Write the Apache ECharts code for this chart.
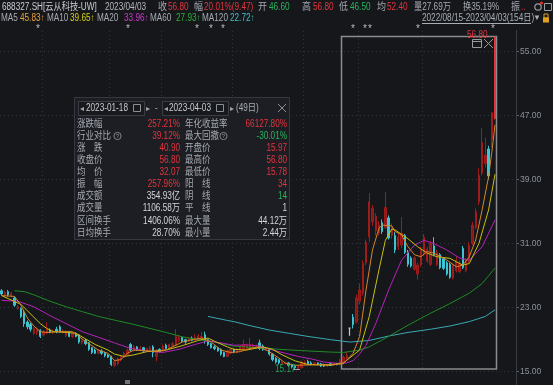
<!DOCTYPE html>
<html><head><meta charset="utf-8">
<script src="https://cdn.jsdelivr.net/npm/echarts@6/dist/echarts.min.js"></script>
<style>html,body{margin:0;padding:0;background:#15171b;}#c{width:553px;height:385px;}</style>
</head><body><div id="c"></div>
<script>
// ---- data ----
const opens = [25.1,24.6,25.0,24.5,24.2,22.9,22.9,22.4,21.2,20.9,19.8,19.9,20.2,19.6,19.8,20.2,19.9,20.3,20.6,19.9,
19.5,20.0,19.4,19.8,19.6,18.6,18.9,18.6,18.0,17.7,17.3,17.6,17.4,17.1,16.9,15.8,16.0,16.5,16.8,17.1,
18.4,17.6,18.1,17.7,18.0,17.6,17.7,18.1,16.9,17.8,17.5,18.3,17.9,18.2,18.3,18.9,19.3,19.0,18.8,19.2,
18.9,19.1,19.2,19.6,19.0,18.5,18.1,18.0,17.8,17.4,16.9,17.3,17.8,17.4,17.6,17.8,17.9,18.0,18.1,18.0,
18.6,18.2,17.7,17.8,17.2,16.7,16.5,15.9,16.0,16.1,15.9,15.7,15.4,15.5,16.0,16.3,16.1,15.9,16.1,16.0,
15.9,15.7,16.0,15.8,16.0,15.97,16.3,16.7,20.45,21.8,21.2,23.8,24.8,28.6,31.8,33.7,32.6,32.3,33.6,33.0,
34.2,32.0,32.0,30.6,30.8,32.0,29.9,29.2,27.8,27.2,28.3,29.7,28.8,28.4,30.7,28.4,29.6,29.1,28.6,28.4,
26.7,27.6,27.5,30.4,27.6,28.8,31.0,33.0,36.2,39.8,41.0,42.8,44.0,46.60];
const closes = [24.7,24.9,24.6,24.8,23.3,23.1,21.9,21.0,20.6,20.3,20.4,20.3,19.4,20.0,20.3,19.9,20.1,20.0,20.0,20.1,
20.0,19.4,19.8,19.4,18.7,18.9,18.5,17.8,17.4,17.3,17.7,17.3,17.0,16.8,15.9,16.3,16.6,16.9,17.3,17.7,
17.7,18.1,17.7,17.9,17.6,17.9,18.0,17.4,17.7,17.5,18.2,17.9,18.4,18.5,19.4,19.2,18.8,18.7,19.1,18.9,
19.3,19.5,19.4,18.9,18.4,18.0,17.9,17.6,17.2,16.9,17.6,17.8,17.5,17.8,18.1,18.4,18.3,18.4,18.3,18.2,
17.9,17.8,17.9,17.2,16.5,16.2,16.1,16.2,16.1,15.8,15.6,15.5,15.6,16.2,16.2,16.0,15.9,16.1,15.9,15.7,
15.7,15.9,15.8,16.0,15.90,16.4,16.8,17.04,20.45,20.9,24.2,25.2,28.5,31.2,36.2,35.4,34.4,33.3,32.5,35.5,
31.7,33.0,30.2,31.8,32.3,29.9,28.4,28.2,29.2,28.3,30.3,31.8,30.3,31.0,29.6,29.9,28.0,27.9,27.2,26.8,
28.3,28.9,28.5,28.0,28.8,30.8,33.3,35.0,39.5,43.6,42.0,39.44,47.33,56.80];
const lows = [24.5,24.4,24.4,24.3,23.1,22.7,21.7,20.6,20.3,20.0,19.6,19.6,19.2,19.4,19.7,19.8,19.7,19.8,19.9,19.8,
19.3,19.3,19.2,19.3,18.5,18.4,18.3,17.6,17.2,17.2,17.2,17.1,16.8,16.7,15.7,15.6,15.8,16.3,16.7,17.0,
17.5,17.5,17.6,17.6,17.5,17.5,17.6,16.8,16.3,17.4,17.4,17.8,17.8,18.1,18.2,18.7,18.6,18.5,18.7,18.8,
18.8,19.0,19.0,18.5,18.2,17.9,17.7,17.5,17.0,16.8,16.8,17.2,17.3,17.3,17.5,17.7,17.8,17.9,18.0,17.9,
17.7,17.6,17.6,17.0,16.3,16.0,15.9,15.8,15.9,15.6,15.4,15.3,15.17,15.4,15.8,15.9,15.8,15.8,15.8,15.6,
15.6,15.6,15.7,15.7,15.8,15.78,16.2,16.5,19.5,20.4,21.0,23.4,24.5,28.3,31.2,33.2,32.0,32.0,32.2,32.8,
31.5,31.6,29.8,30.2,30.4,29.7,28.1,28.0,27.6,26.5,28.1,29.5,28.6,28.2,29.4,28.2,27.8,27.7,27.0,26.6,
26.5,27.4,27.3,27.8,27.4,28.6,30.8,32.8,35.8,39.5,40.5,39.0,43.0,46.50];
const highs = [25.3,25.1,25.2,25.0,24.4,23.3,23.0,22.7,21.4,21.1,20.6,20.5,20.3,20.2,21.2,20.4,20.3,20.6,20.8,20.3,
20.2,20.1,19.9,19.9,19.7,19.0,19.1,18.7,18.1,17.9,17.8,17.8,17.5,17.2,17.0,16.5,16.8,17.0,17.5,17.9,
18.6,18.3,18.2,18.2,18.1,18.0,18.2,18.3,17.8,17.9,18.4,18.5,18.5,18.7,20.3,19.6,19.4,19.1,19.3,19.4,
19.7,19.7,20.0,20.0,19.1,18.6,18.3,18.1,17.9,17.5,17.8,17.9,17.9,17.9,18.3,19.0,18.5,19.2,18.5,18.4,
19.0,18.4,18.0,17.9,17.3,16.8,16.6,16.3,16.3,16.2,16.0,15.8,15.8,16.4,16.4,16.5,16.3,16.2,16.2,16.1,
16.0,16.0,16.1,16.1,16.1,16.6,17.0,17.5,20.45,22.2,24.6,26.0,28.9,31.5,37.3,35.8,34.8,33.8,34.0,37.4,
34.5,33.5,32.4,32.2,34.3,32.2,30.2,29.4,29.4,28.6,30.6,32.2,30.6,31.3,31.8,30.2,29.8,29.3,28.8,28.6,
28.5,29.4,28.9,30.7,29.2,31.2,33.7,35.4,40.4,45.4,44.2,43.2,47.33,56.80];
const dojiIdx = 108;
const ma5Pts = [[0,24.5],[4,24.4],[6,23.3],[8,21.7],[10,20.7],[12,20.0],[14,19.9],[18,20.0],[22,20.0],[24,19.4],[26,18.75],[28,18.25],[30,17.7],[33,17.3],[35,16.4],[37,16.5],[39,17.3],[41,17.7],[45,17.6],[48,17.5],[51,17.7],[56,18.7],[59,19.0],[62,19.2],[65,18.7],[68,17.7],[71,17.4],[74,17.5],[77,17.9],[80,18.1],[83,17.5],[86,16.7],[88,16.05],[91,15.8],[96,15.85],[102,15.9],[106,16.0],[109,17.3],[111,19.4],[113,25.2],[115,30.2],[117,32.9],[118,33.3],[121,33.2],[122,32.5],[124,32.1],[126,30.6],[128,29.6],[130,29.35],[132,30.0],[134,29.8],[136,29.4],[138,28.95],[141,28.1],[143,28.3],[145,29.35],[147,31.45],[149,35.2],[151,39.35],[152,42.4],[153,45.83]];
const ma10Pts = [[0,24.5],[6,23.4],[8,22.6],[10,21.8],[12,21.0],[14,20.4],[16,20.0],[20,19.9],[23,19.8],[26,19.1],[29,18.4],[33,17.7],[35,17.2],[38,16.9],[41,17.1],[45,17.5],[51,17.7],[56,18.25],[61,18.9],[64,19.2],[66,18.8],[70,18.1],[72,17.8],[76,17.7],[81,18.1],[84,17.8],[87,17.1],[91,16.35],[95,15.9],[102,15.8],[106,16.1],[111,17.7],[114,21.9],[117,27.7],[119,31.4],[121,32.8],[122,32.7],[126,31.6],[129,30.6],[132,29.8],[135,29.35],[139,29.15],[143,28.3],[145,28.5],[148,31.0],[151,35.2],[153,39.65]];
const ma20Pts = [[0,23.9],[5,23.8],[10,23.1],[15,22.0],[20,21.0],[25,20.0],[30,19.3],[35,18.6],[40,17.9],[45,17.6],[50,17.4],[55,17.8],[60,18.4],[64,18.85],[68,18.6],[72,18.3],[76,18.35],[80,18.2],[84,17.7],[88,17.3],[92,16.9],[96,16.6],[100,16.2],[104,16.05],[107,16.1],[109,16.4],[111,17.2],[113,18.3],[116,21.0],[120,25.2],[124,28.9],[128,30.8],[131,31.4],[134,31.0],[138,30.2],[142,29.2],[145,28.9],[149,30.6],[153,33.96]];
const ma60Pts = [[4,25.1],[7,25.0],[10,24.6],[15,23.8],[20,23.1],[25,22.5],[30,21.9],[36,21.35],[41,20.9],[46,20.4],[51,19.9],[56,19.35],[61,19.0],[66,18.7],[72,18.2],[82,17.9],[92,17.65],[102,17.45],[106,17.4],[111,17.7],[114,18.1],[120,19.4],[126,20.8],[133,22.3],[139,23.5],[145,24.8],[149,26.0],[153,27.93]];
const ma120Pts = [[64,21.9],[70,21.4],[72,21.25],[77,20.75],[83,20.2],[89,19.8],[95,19.4],[102,19.0],[108,18.7],[114,18.9],[120,19.45],[126,19.9],[133,20.3],[139,20.7],[145,21.25],[150,21.9],[153,22.72]];
const yTicks = [15,23,31,39,47,55];
const monthStarts = [13,34,50,72,94,111,131];
const starPos = [38,128,197,211,223,353,365,370,418,493];
const slotCount = 160;

// ---- styling ----
const F = "'Liberation Sans','Noto Sans CJK SC',sans-serif";
const SX = 0.82;
const RED = '#e4343d', GREEN = '#2bb35c', WHITE = '#d2d5da', GREY = '#a6aab1';
const cats = Array.from({length: slotCount}, (_, i) => String(i));
const n = opens.length;
const kData = opens.map((o, i) => {
  if (i === dojiIdx) return '-';
  const v = [o, closes[i], lows[i], highs[i]];
  if (i === n - 1) return {value: v, itemStyle: {color: '#e3333c', borderColor: '#e3333c'}};
  return v;
});
const dojiData = opens.map((o, i) => i === dojiIdx ? [o, closes[i], lows[i], highs[i]] : '-');
function sparse(pts){ const a = new Array(n).fill(null); pts.forEach(p => { a[p[0]] = p[1]; }); return a; }
function maLine(name, pts, color){
  return {name, type:'line', data: sparse(pts), connectNulls:true, symbol:'none', silent:true,
    lineStyle:{color, width:1}, z:3};
}

const g = [];
function T(x, y, s, fill, o){ o = o || {};
  g.push({type:'text', x, y, z: o.z || 100, scaleX: o.sx || SX, style:{text:s, fill, fontSize:o.size||10, fontFamily:F,
    align:o.align||'left', verticalAlign:'middle'}});
}
// header row 1
T(2,7,'688327.SH[云从科技-UW]','#c9cdd3');
T(105,7,'2023/04/03','#b3b7bd');
T(158,7,'收',GREY,{sx:0.9}); T(168,7,'56.80',RED);
T(194,7,'幅',GREY,{sx:0.9}); T(204,7,'20.01%(9.47)',RED);
T(258,7,'开',GREY,{sx:0.9}); T(269,7,'46.60',GREEN);
T(302,7,'高',GREY,{sx:0.9}); T(313,7,'56.80',RED);
T(339,7,'低',GREY,{sx:0.9}); T(350,7,'46.50',GREEN);
T(377,7,'均',GREY,{sx:0.9}); T(387,7,'52.40',RED);
T(414,7,'量27.69万',GREY); T(463,7,'换35.19%',GREY);
T(511,7,'振',GREY,{sx:0.9}); T(521,7,'..',RED);
g.push({type:'circle', z:100, shape:{cx:538,cy:7,r:3.2}, style:{fill:'none',stroke:'#9a9ea5',lineWidth:1.2}});
g.push({type:'circle', z:100, shape:{cx:541.5,cy:3,r:1.6}, style:{fill:'#e03030'}});
g.push({type:'rect', z:100, shape:{x:544.5,y:3.5,width:7,height:7}, style:{fill:'none',stroke:'#9a9ea5'}});
// header row 2
const maHdr = [[1,'MA5',20,'45.83↑','#e8a13a'],[47,'MA10',70,'39.65↑','#d6cf1a'],[97,'MA20',124,'33.96↑','#cc3acc'],
  [150,'MA60',176,'27.93↑','#2fae3a'],[202,'MA120',230,'22.72↑','#45bcc6']];
maHdr.forEach(m => { T(m[0],18,m[1],GREY); T(m[2],18,m[3],m[4]); });
T(422,18,'2022/08/15-2023/04/03(154日)','#a9adb4');
g.push({type:'line', z:100, shape:{x1:422,y1:23.5,x2:531,y2:23.5}, style:{stroke:'#a9adb4',lineWidth:1}});
T(533,18,'▼','#a9adb4',{size:8,sx:1});
g.push({type:'rect', z:100, shape:{x:543,y:17.5,width:6,height:5}, style:{fill:'#e0a21e'}});
g.push({type:'rect', z:100, shape:{x:544,y:14,width:4,height:4}, style:{fill:'none',stroke:'#e0a21e',lineWidth:1}});
// stars
starPos.forEach(x => T(x,29.5,'*','#b4b8be',{size:10,align:'center',sx:1}));
// right axis line
g.push({type:'line', z:100, shape:{x1:516.5,y1:30,x2:516.5,y2:385}, style:{stroke:'#3a3d43',lineWidth:1}});
// selection box
g.push({type:'rect', z:1, shape:{x:341.5,y:36.5,width:155,height:332.5}, style:{fill:'none',stroke:'#8c8c8c',lineWidth:1.5}});
g.push({type:'rect', z:100, shape:{x:472.5,y:39.5,width:9,height:8}, style:{fill:'none',stroke:'#9a9a9a',lineWidth:1}});
g.push({type:'line', z:100, shape:{x1:472.5,y1:41.5,x2:481.5,y2:41.5}, style:{stroke:'#9a9a9a',lineWidth:1}});
g.push({type:'line', z:100, shape:{x1:484,y1:39,x2:493,y2:48}, style:{stroke:'#9a9a9a',lineWidth:1}});
g.push({type:'line', z:100, shape:{x1:493,y1:39,x2:484,y2:48}, style:{stroke:'#9a9a9a',lineWidth:1}});
T(467,35,'56.80',RED);
// low label
T(275,369,'15.17','#23a457');
g.push({type:'line', z:100, shape:{x1:293,y1:369.5,x2:300,y2:369.5}, style:{stroke:'#a0a0a0',lineWidth:1}});
// bottom small icon
g.push({type:'rect', z:100, shape:{x:125,y:380,width:5,height:4}, style:{fill:'#6f7378'}});
// popup
g.push({type:'rect', z:90, shape:{x:74.5,y:97.5,width:215,height:142}, style:{fill:'#1c1e23',stroke:'#35383e',lineWidth:1}});
g.push({type:'rect', z:95, shape:{x:78.5,y:101.5,width:66,height:14}, style:{fill:'#17191d',stroke:'#3a3d43'}});
g.push({type:'rect', z:95, shape:{x:162.5,y:101.5,width:66,height:14}, style:{fill:'#17191d',stroke:'#3a3d43'}});
T(80,108.5,'◂','#a0a4ab',{size:8,sx:1}); T(86,108.5,'2023-01-18','#c8ccd2');
g.push({type:'rect', z:100, shape:{x:133.5,y:104.5,width:7,height:7}, style:{fill:'none',stroke:'#8a8e95'}});
T(146,108.5,'▸','#a0a4ab',{size:8,sx:1}); T(155,108.5,'-','#a0a4ab');
T(164,108.5,'◂','#a0a4ab',{size:8,sx:1}); T(169,108.5,'2023-04-03','#c8ccd2');
g.push({type:'rect', z:100, shape:{x:216.5,y:104.5,width:7,height:7}, style:{fill:'none',stroke:'#8a8e95'}});
T(230,108.5,'▸','#a0a4ab',{size:8,sx:1}); T(236,108.5,'(49日)','#a9adb4');
g.push({type:'line', z:100, shape:{x1:278,y1:104,x2:286,y2:112}, style:{stroke:'#8a8e95',lineWidth:1}});
g.push({type:'line', z:100, shape:{x1:286,y1:104,x2:278,y2:112}, style:{stroke:'#8a8e95',lineWidth:1}});
const rows = [
 ['涨跌幅','257.21%',RED,'年化收益率','66127.80%',RED],
 ['行业对比','39.12%',RED,'最大回撤','-30.01%',GREEN],
 ['涨　跌','40.90',RED,'开盘价','15.97',RED],
 ['收盘价','56.80',RED,'最高价','56.80',RED],
 ['均　价','32.07',RED,'最低价','15.78',RED],
 ['振　幅','257.96%',RED,'阳　线','34',RED],
 ['成交额','354.93亿',WHITE,'阴　线','14',GREEN],
 ['成交量','1106.58万',WHITE,'平　线','1',WHITE],
 ['区间换手','1406.06%',WHITE,'最大量','44.12万',WHITE],
 ['日均换手','28.70%',WHITE,'最小量','2.44万',WHITE]];
rows.forEach((r, k) => {
  const y = 124 + k * 12.1;
  T(77,y,r[0],GREY,{sx:0.85}); T(180,y,r[1],r[2],{align:'right'});
  T(185,y,r[3],GREY,{sx:0.85}); T(287,y,r[4],r[5],{align:'right'});
});
[[117.5,136],[223.5,136]].forEach(c => {
  g.push({type:'circle', z:100, shape:{cx:c[0],cy:c[1],r:3.6}, style:{fill:'none',stroke:'#8a8e95',lineWidth:0.9}});
  T(c[0],c[1],'?','#8a8e95',{size:6,align:'center',sx:1});
});

const chart = echarts.init(document.getElementById('c'), null, {renderer:'canvas'});
chart.setOption({
  animation:false,
  backgroundColor:'#15171b',
  grid:{left:0,right:37,top:31,bottom:13.3,containLabel:false},
  xAxis:{type:'category', data:cats, boundaryGap:true,
    axisLine:{show:false}, axisTick:{show:false}, axisLabel:{show:false},
    splitLine:{show:true, interval:(idx)=>monthStarts.indexOf(idx)>=0, lineStyle:{color:'#30333a',type:[1,3],width:1}}},
  yAxis:{type:'value', position:'right', min:15, max:57.53, scale:false,
    axisLine:{show:false},
    axisTick:{show:true, length:3, customValues:yTicks, lineStyle:{color:'#62666d'}},
    axisLabel:{show:true, customValues:yTicks, color:'#8d929a', fontSize:8.5, fontFamily:F, margin:4, formatter:v=>Number(v).toFixed(2)},
    splitLine:{show:true, lineStyle:{color:'#30333a',type:[1,3],width:1}}},
  series:[
    {name:'K', type:'candlestick', data:kData, barWidth:1.8, z:2,
      itemStyle:{color:'#8a1616', color0:'#3cc4d2', borderColor:'#a01c1c', borderColor0:'#3cc4d2', borderWidth:1}},
    {name:'doji', type:'candlestick', data:dojiData, barWidth:2.5, z:2,
      itemStyle:{color:'#c8c8c8', color0:'#c8c8c8', borderColor:'#c8c8c8', borderColor0:'#c8c8c8', borderColorDoji:'#c8c8c8', borderWidth:1.2}},
    maLine('MA120', ma120Pts, '#3aa8b2'),
    maLine('MA60', ma60Pts, '#1f8a24'),
    maLine('MA20', ma20Pts, '#b522b8'),
    maLine('MA10', ma10Pts, '#c7c010'),
    maLine('MA5', ma5Pts, '#d4862a')
  ],
  graphic: g
});
</script></body></html>
